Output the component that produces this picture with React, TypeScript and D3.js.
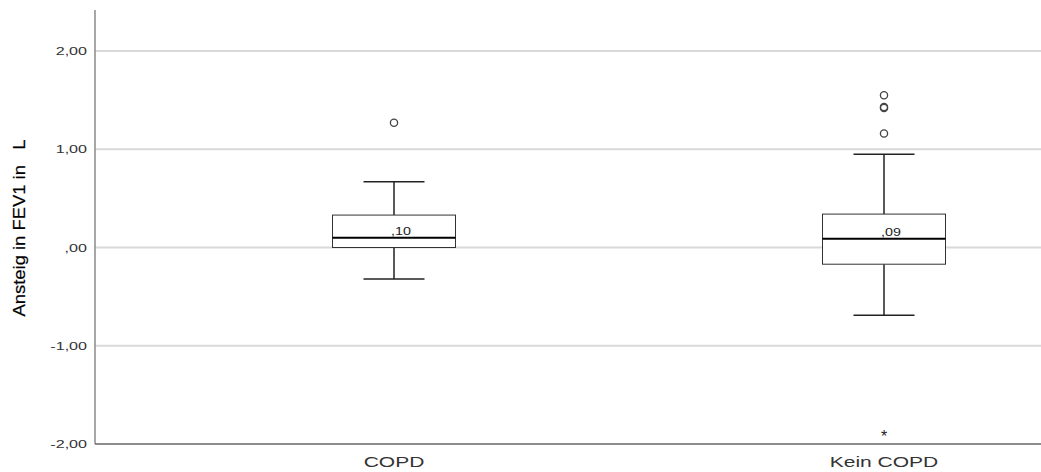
import React from 'react';
import * as d3 from 'd3';

const categories = ['COPD', 'Kein COPD'];
const q1 = [0.0, -0.17];
const medians = [0.10, 0.09];
const q3 = [0.33, 0.34];
const whiskerLow = [-0.32, -0.69];
const whiskerHigh = [0.67, 0.95];
const outliers = [[1.27], [1.16, 1.42, 1.43, 1.55]];
const extremes = [[], [-1.91]];
const medianLabels = [',10', ',09'];
const yTicks = [-2, -1, 0, 1, 2];
const yTickLabels = ['-2,00', '-1,00', ',00', '1,00', '2,00'];

const width = 1041;
const height = 472;
const margin = { top: 10, right: 0, bottom: 28, left: 95 };

const App = () => {
  const y = d3.scaleLinear().domain([-2, 2]).range([444, 51]);
  const x = d3.scalePoint().domain(categories).range([394, 884]);
  const boxW = 123;
  const capW = 61;
  const font = 'Liberation Sans, Arial, sans-serif';

  return (
    <svg width={width} height={height} style={{ position: 'absolute', left: 0, top: 0, background: '#fff' }}>
      {yTicks.map((t, i) => (
        <g key={t}>
          {t > -2 && (
            <line x1={margin.left} x2={width} y1={y(t)} y2={y(t)} stroke="#d9d9d9" strokeWidth={2} />
          )}
          <g transform={`translate(87,${y(t) + 4}) scale(1.4,1)`}>
            <text x={0} y={0} textAnchor="end" fontFamily={font} fontSize={11.5} fill="#333">
              {yTickLabels[i]}
            </text>
          </g>
        </g>
      ))}
      <line x1={margin.left} x2={margin.left} y1={margin.top} y2={444} stroke="#8a8a8a" strokeWidth={1.5} />
      <line x1={margin.left} x2={width} y1={444} y2={444} stroke="#666" strokeWidth={1.5} />
      <text
        transform={`translate(25,${228}) rotate(-90)`}
        textAnchor="middle"
        fontFamily="Liberation Sans Narrow, Arial Narrow, Liberation Sans, sans-serif"
        fontSize={17}
        fill="#000"
        stroke="#000"
        strokeWidth={0.2}
        textLength={177}
        lengthAdjust="spacingAndGlyphs"
        style={{ whiteSpace: 'pre' }}
      >
        {'Ansteig in FEV1 in   L'}
      </text>
      {categories.map((c, i) => {
        const cx = x(c) as number;
        return (
          <g key={c}>
            <line x1={cx} x2={cx} y1={y(whiskerHigh[i])} y2={y(q3[i])} stroke="#222" strokeWidth={1.5} />
            <line x1={cx} x2={cx} y1={y(q1[i])} y2={y(whiskerLow[i])} stroke="#222" strokeWidth={1.5} />
            <line x1={cx - capW / 2} x2={cx + capW / 2} y1={y(whiskerHigh[i])} y2={y(whiskerHigh[i])} stroke="#222" strokeWidth={1.5} />
            <line x1={cx - capW / 2} x2={cx + capW / 2} y1={y(whiskerLow[i])} y2={y(whiskerLow[i])} stroke="#222" strokeWidth={1.5} />
            <rect
              x={cx - boxW / 2}
              y={y(q3[i])}
              width={boxW}
              height={y(q1[i]) - y(q3[i])}
              fill="#fff"
              stroke="#333"
              strokeWidth={1}
            />
            <line x1={cx - boxW / 2} x2={cx + boxW / 2} y1={y(medians[i])} y2={y(medians[i])} stroke="#000" strokeWidth={2} />
            <g transform={`translate(${cx - 3},${y(medians[i]) - 3}) scale(1.3,1)`}>
              <text x={0} y={0} fontFamily={font} fontSize={11} fill="#222">
                {medianLabels[i]}
              </text>
            </g>
            {outliers[i].map((o, j) => (
              <circle key={j} cx={cx} cy={y(o)} r={3.6} fill="none" stroke="#444" strokeWidth={1.3} />
            ))}
            {extremes[i].map((o, j) => (
              <text key={j} x={cx} y={y(o) + 7} textAnchor="middle" fontFamily={font} fontSize={16} fill="#222">
                *
              </text>
            ))}
            <g transform={`translate(${cx},467) scale(1.45,1)`}>
              <text x={0} y={0} textAnchor="middle" fontFamily={font} fontSize={14.5} fill="#333">
                {c}
              </text>
            </g>
          </g>
        );
      })}
    </svg>
  );
};

export default App;
